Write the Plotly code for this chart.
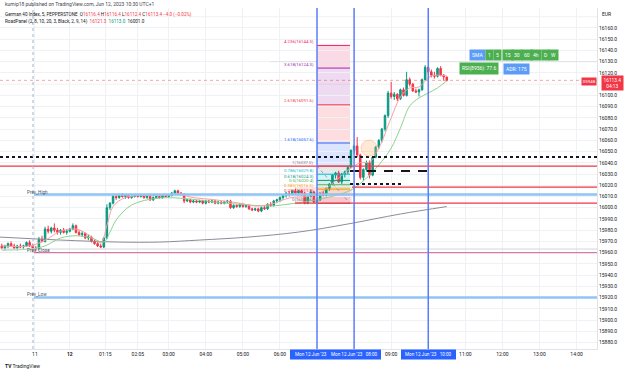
import plotly.graph_objects as go

# ---------------- data (5-minute bars, index 100 = 07:00) ----------------
bars = list(range(-2, 143))
opens = [
    15966, 15964, 15966, 15968, 15966, 15964, 15966, 15965, 15966, 15969,
    15966, 15964, 15963, 15972, 15970, 15981, 15979, 15982, 15980, 15978,
    15980, 15978, 15979, 15981, 15984, 15978, 15976, 15977, 15973, 15974,
    15970, 15968, 15966, 15965, 15973, 16000, 16004, 16010, 16009, 16011,
    16010, 16011, 16009, 16010, 16011, 16010, 16011, 16009, 16010, 16007,
    16009, 16010, 16009, 16011, 16010, 16011, 16013, 16015, 16013, 16012,
    16006, 16007, 16005, 16006, 16005, 16006, 16004, 16006, 16005, 16006,
    16004, 16005, 16004, 16005, 16006, 16000, 16002, 16001, 16003, 16001,
    16002, 15999, 15998, 15999, 15997, 16000, 15999, 16003, 16002, 16006,
    16007, 16009, 16011, 16013, 16012, 16015, 16013, 16015, 16013, 16004,
    16010, 16014, 16005, 16007, 16013, 16011, 16017, 16021, 16029, 16031,
    16023, 16030, 16032, 16036, 16051, 16055, 16047, 16027, 16034, 16040,
    16029, 16045, 16054, 16060, 16070, 16082, 16102, 16099, 16101, 16097,
    16105, 16100, 16114, 16110, 16104, 16103, 16105, 16114, 16125, 16121,
    16118, 16117, 16124, 16118, 16116.4]
highs = [
    15968, 15967, 15969, 15970, 15968, 15967, 15968, 15967, 15970, 15971,
    15968, 15966, 15974, 15975, 15983, 15984, 15983, 15986, 15982, 15981,
    15982, 15981, 15982, 15986, 15985, 15980, 15979, 15978, 15976, 15975,
    15972, 15971, 15968, 15974, 16003, 16005, 16012, 16012, 16012, 16013,
    16012, 16012, 16011, 16012, 16012, 16012, 16012, 16011, 16011, 16010,
    16011, 16011, 16012, 16012, 16012, 16014, 16016, 16016, 16014, 16013,
    16008, 16008, 16007, 16007, 16007, 16007, 16007, 16007, 16007, 16007,
    16006, 16006, 16006, 16007, 16007, 16003, 16003, 16004, 16004, 16003,
    16003, 16000, 16000, 16000, 16001, 16002, 16004, 16005, 16007, 16008,
    16010, 16012, 16014, 16015, 16016, 16017, 16016, 16016, 16014, 16011,
    16016, 16015, 16009, 16014, 16015, 16018, 16022, 16030, 16032, 16033,
    16031, 16033, 16037, 16052, 16056, 16063, 16048, 16035, 16042, 16042,
    16046, 16055, 16061, 16071, 16083, 16104, 16112, 16103, 16102, 16106,
    16107, 16121, 16116, 16111, 16106, 16106, 16115, 16127, 16126, 16123,
    16121, 16125, 16126, 16119, 16116.4]
lows = [
    15963, 15962, 15964, 15965, 15963, 15962, 15964, 15963, 15965, 15965,
    15962, 15961, 15962, 15969, 15969, 15977, 15977, 15978, 15976, 15976,
    15977, 15976, 15978, 15980, 15977, 15975, 15974, 15972, 15971, 15969,
    15967, 15965, 15964, 15964, 15972, 15998, 16003, 16007, 16008, 16009,
    16008, 16008, 16008, 16009, 16009, 16009, 16008, 16008, 16006, 16006,
    16008, 16008, 16008, 16009, 16009, 16010, 16012, 16012, 16011, 16004,
    16005, 16004, 16004, 16004, 16004, 16003, 16003, 16004, 16004, 16003,
    16003, 16003, 16003, 16004, 15999, 15999, 16000, 16000, 16000, 16000,
    15998, 15997, 15997, 15996, 15996, 15998, 15998, 16001, 16001, 16004,
    16005, 16007, 16009, 16010, 16011, 16012, 16011, 16011, 16003, 16003,
    16009, 16004, 16003, 16006, 16010, 16010, 16015, 16020, 16026, 16022,
    16021, 16027, 16030, 16035, 16048, 16045, 16025, 16024, 16032, 16026,
    16028, 16044, 16052, 16058, 16068, 16080, 16097, 16096, 16095, 16096,
    16099, 16099, 16108, 16103, 16102, 16099, 16104, 16113, 16119, 16116,
    16115, 16116, 16117, 16113, 16112.4]
closes = [
    15964, 15966, 15968, 15966, 15964, 15966, 15965, 15966, 15969, 15966,
    15964, 15963, 15972, 15970, 15981, 15979, 15982, 15980, 15978, 15980,
    15978, 15979, 15981, 15984, 15978, 15976, 15977, 15973, 15974, 15970,
    15968, 15966, 15965, 15973, 16000, 16004, 16010, 16009, 16011, 16010,
    16011, 16009, 16010, 16011, 16010, 16011, 16009, 16010, 16007, 16009,
    16010, 16009, 16011, 16010, 16011, 16013, 16015, 16013, 16012, 16006,
    16007, 16005, 16006, 16005, 16006, 16004, 16006, 16005, 16006, 16004,
    16005, 16004, 16005, 16006, 16000, 16002, 16001, 16003, 16001, 16002,
    15999, 15998, 15999, 15997, 16000, 15999, 16003, 16002, 16006, 16007,
    16009, 16011, 16013, 16012, 16015, 16013, 16015, 16013, 16004, 16010,
    16014, 16005, 16007, 16013, 16011, 16017, 16021, 16029, 16031, 16023,
    16030, 16032, 16036, 16051, 16055, 16047, 16027, 16034, 16040, 16029,
    16045, 16054, 16060, 16070, 16082, 16102, 16099, 16101, 16097, 16105,
    16100, 16114, 16110, 16104, 16103, 16105, 16114, 16125, 16121, 16118,
    16117, 16124, 16118, 16116.4, 16113.4]

fast_idx = [-2, 7, 12, 17, 22, 26, 30, 32, 34, 38, 49, 56, 59, 67, 75, 80, 85, 91, 98,
            101, 106, 111, 114, 117, 120, 124, 127, 130, 133, 137, 142]
fast_val = [15966, 15966, 15971, 15979, 15981, 15976, 15969, 15984, 16001, 16009, 16011,
            16012, 16009.5, 16007, 16004, 16001.5, 16003, 16008.6, 16010.4, 16013, 16024,
            16035.3, 16040, 16040.7, 16053, 16080, 16098.6, 16106.6, 16107.5, 16117.3, 16117.3]
slow_idx = [-2, 7, 12, 17, 22, 27, 31, 33, 35, 40, 49, 59, 67, 78, 85, 91, 101, 111, 116,
            120, 124, 127, 130, 133, 136, 139, 142]
slow_val = [15962.3, 15963.2, 15966, 15973, 15975, 15973, 15969.4, 15978.3, 15989, 16002.4,
            16008.6, 16007.7, 16005, 16002.4, 16001.5, 16003.3, 16007.7, 16015.7, 16026.4,
            16038, 16053, 16071, 16090.5, 16097.7, 16102.1, 16106.6, 16113]
sma_idx = [-3, 17, 36, 49, 62, 78, 94, 110, 127, 142]
sma_val = [15973.9, 15971.2, 15969.4, 15969.4, 15971.2, 15973.9, 15978.3, 15985.5, 15994.4, 16001.0]

fib_ratio = ["0", "0.236", "0.382", "0.5", "0.618", "0.786", "1", "1.618", "2.618", "3.618", "4.236"]
fib_price = [16003.8, 16011.8, 16016.5, 16020.4, 16024.3, 16029.8, 16037.0, 16057.6, 16091.6, 16124.3, 16144.5]
fib_color = ["#787b86", "#f23645", "#ff9800", "#4caf50", "#089981", "#00bcd4", "#787b86",
             "#2962ff", "#f23645", "#9c27b0", "#e91e63"]

prev_high, prev_low, prev_close, prev_open = 16011.7, 15920.0, 15960.0, 15963.2
level_red = [16037.0, 16018.4, 16004.0]
level_dotted_long, level_dashed, level_dotted_short = 16045.1, 16032.7, 16021.1
level_grey_top = 16130.0
last_price = 16113.4

price_ticks = [15880, 15890, 15900, 15910, 15920, 15930, 15940, 15950, 15960, 15970, 15980,
               15990, 16000, 16010, 16020, 16030, 16040, 16050, 16060, 16070, 16080, 16090,
               16100, 16120, 16130, 16140, 16150, 16160]
hidden_grid = [16110, 16170]
tick_vals = [8.7, 20, 31.5, 42, 52, 64, 76, 88, 124, 148, 160, 172, 184]
tick_text = ["11", "<b>12</b>", "01:15", "02:05", "03:00", "04:00", "05:00", "06:00",
             "09:00", "11:00", "12:00", "13:00", "14:00"]
vlines = [100, 112, 136]

# ---------------- geometry helpers ----------------
PR, PT, PB = 597, 8, 349
X_MIN, X_MAX = -2.59, 190.61
Y_MIN, Y_MAX = 15874.2, 16177.8
def fx(px): return px / PR
def fy(py): return 1 - (py - PT) / (PB - PT)
def ix(px): return X_MIN + (X_MAX - X_MIN) * px / PR

FONT = "Roboto, Arial, sans-serif"
DARK = "#131722"
GRID = "#f0f1f4"

fig = go.Figure()
fig.add_trace(go.Scatter(x=sma_idx, y=sma_val, mode="lines", line=dict(color="#8a8d96", width=1, shape="spline"), hoverinfo="skip"))
fig.add_trace(go.Scatter(x=slow_idx, y=slow_val, mode="lines", line=dict(color="#8fd18f", width=1, shape="spline"), hoverinfo="skip"))
fig.add_trace(go.Scatter(x=fast_idx, y=fast_val, mode="lines", line=dict(color="#f7a1a1", width=1, shape="spline"), hoverinfo="skip"))
fig.add_trace(go.Candlestick(
    x=bars, open=opens, high=highs, low=lows, close=closes,
    increasing=dict(line=dict(color="#089981", width=1), fillcolor="#089981"),
    decreasing=dict(line=dict(color="#f23645", width=1), fillcolor="#f23645"),
    whiskerwidth=0, hoverinfo="skip"))

shapes = []
for g in hidden_grid:
    shapes.append(dict(type="line", xref="paper", yref="y", x0=0, x1=1, y0=g, y1=g, line=dict(color=GRID, width=1), layer="below"))
fx0, fx1 = ix(317), ix(350)
# fib fills and lines
for i in range(1, len(fib_price)):
    c = fib_color[i]
    r, g, b = int(c[1:3], 16), int(c[3:5], 16), int(c[5:7], 16)
    shapes.append(dict(type="rect", xref="x", yref="y", x0=fx0, x1=fx1, y0=fib_price[i - 1], y1=fib_price[i],
                       fillcolor=f"rgba({r},{g},{b},0.17)", line=dict(width=0), layer="below"))
for p, c in zip(fib_price, fib_color):
    shapes.append(dict(type="line", xref="x", yref="y", x0=fx0, x1=fx1, y0=p, y1=p, line=dict(color=c, width=1)))
shapes.append(dict(type="line", xref="x", yref="y", x0=fx0, x1=fx1, y0=fib_price[6], y1=fib_price[0],
                   line=dict(color="#9598a1", width=1, dash="dot")))
# opening range box
shapes.append(dict(type="rect", xref="x", yref="y", x0=ix(295), x1=ix(352), y0=level_red[2], y1=level_red[1],
                   fillcolor="rgba(242,54,69,0.13)", line=dict(width=0), layer="below"))
# red horizontal levels
shapes.append(dict(type="line", xref="x", yref="y", x0=X_MIN, x1=X_MAX, y0=level_red[0], y1=level_red[0], line=dict(color="#f23645", width=1.3)))
shapes.append(dict(type="line", xref="x", yref="y", x0=ix(352), x1=X_MAX, y0=level_red[1], y1=level_red[1], line=dict(color="#f23645", width=1.3)))
shapes.append(dict(type="line", xref="x", yref="y", x0=ix(295), x1=X_MAX, y0=level_red[2], y1=level_red[2], line=dict(color="#f23645", width=1.3)))
# black dotted / dashed lines
shapes.append(dict(type="line", xref="x", yref="y", x0=X_MIN, x1=X_MAX, y0=level_dotted_long, y1=level_dotted_long,
                   line=dict(color="#131722", width=2, dash="dot")))
shapes.append(dict(type="line", xref="x", yref="y", x0=ix(350), x1=ix(433), y0=level_dashed, y1=level_dashed,
                   line=dict(color="#131722", width=2, dash="9px,8px")))
shapes.append(dict(type="line", xref="x", yref="y", x0=ix(350), x1=ix(404), y0=level_dotted_short, y1=level_dotted_short,
                   line=dict(color="#131722", width=2, dash="dot")))
# previous day levels
shapes.append(dict(type="line", xref="x", yref="y", x0=X_MIN, x1=X_MAX, y0=prev_open, y1=prev_open, line=dict(color="#d1d4dc", width=1)))
for lv in (prev_high, prev_low):
    shapes.append(dict(type="line", xref="x", yref="y", x0=ix(34), x1=X_MAX, y0=lv, y1=lv, line=dict(color="#90c4f5", width=2.6)))
shapes.append(dict(type="line", xref="x", yref="y", x0=ix(34), x1=X_MAX, y0=prev_close, y1=prev_close, line=dict(color="#d47aa8", width=1.4)))
shapes.append(dict(type="line", xref="x", yref="y", x0=ix(270), x1=X_MAX, y0=level_grey_top, y1=level_grey_top, line=dict(color="#e0e1e5", width=1)))
shapes.append(dict(type="line", xref="x", yref="y", x0=X_MIN, x1=X_MAX, y0=last_price, y1=last_price,
                   line=dict(color="rgba(242,54,69,0.45)", width=1, dash="dot")))
# vertical lines
for v in vlines:
    shapes.append(dict(type="line", xref="x", yref="paper", x0=v, x1=v, y0=0, y1=1, line=dict(color="#5a7dfb", width=1.5)))
shapes.append(dict(type="line", xref="paper", yref="paper", x0=fx(33), x1=fx(33), y0=0, y1=fy(0), line=dict(color="#9fb3d1", width=1, dash="dot")))
# highlight circle
shapes.append(dict(type="circle", xref="x", yref="y", x0=ix(361), x1=ix(377), y0=16046, y1=16060.2,
                   fillcolor="rgba(255,178,120,0.30)", line=dict(color="rgba(255,178,120,0.5)", width=1)))
# time axis blue boxes
shapes.append(dict(type="rect", xref="paper", yref="paper", x0=fx(290), x1=fx(381), y0=fy(359.5), y1=fy(349.5),
                   fillcolor="#2962ff", line=dict(width=0)))
shapes.append(dict(type="rect", xref="paper", yref="paper", x0=fx(401), x1=fx(456), y0=fy(359.5), y1=fy(349.5),
                   fillcolor="#2962ff", line=dict(width=0)))

ann = []
def txt(px, py, s, size=5, color=DARK, xa="left", bg=None, pad=1):
    d = dict(x=fx(px), y=fy(py), xref="paper", yref="paper", text=s, showarrow=False, xanchor=xa, yanchor="middle",
             font=dict(family=FONT, size=size, color=color), borderpad=pad)
    if bg:
        d["bgcolor"] = bg
    ann.append(d)

txt(3, 3.5, "kumip18 published on TradingView.com, Jun 12, 2023 10:30 UTC+1", size=5, color="#434651")
R = "#f23645"
txt(3, 15, "German 40 Index, 5, PEPPERSTONE  O<span style='color:%s'>16116.4</span> H<span style='color:%s'>16116.4</span> "
          "L<span style='color:%s'>16112.4</span> C<span style='color:%s'>16113.4</span> "
          "<span style='color:%s'>−4.0 (−0.02%%)</span>" % (R, R, R, R, R), size=4.6)
txt(3, 22, "RoadPanel (2, 8, 10, 20, 3, Black, 2, 9, 14)  <span style='color:#f23645'>16121.3</span>  "
          "<span style='color:#089981'>16113.0</span>  16001.0", size=4.6)
txt(25, 192, "Prev_High", size=4.6, color="#50535e")
txt(25, 250.5, "Prev_Close", size=4.6, color="#50535e")
txt(25, 294.5, "Prev_Low", size=4.6, color="#50535e")
for r_, p, c in zip(fib_ratio, fib_price, fib_color):
    ann.append(dict(x=ix(316), y=p, xref="x", yref="y", text=f"{r_}({p:.1f})", showarrow=False, xanchor="right",
                    yanchor="middle", yshift=4, font=dict(family=FONT, size=4.3, color=c)))
# right axis labels
txt(606, 14, "EUR", size=5, xa="center")
txt(612, 83, "16113.4<br>04:13", size=4.8, color="white", xa="center", bg="#f23645", pad=1.5)
txt(588.5, 81, "05948", size=4.4, color="white", xa="center", bg="#f23645", pad=0.8)
# time axis box labels
txt(311, 354.5, "Mon 12 Jun '23", size=4.6, color="white", xa="center")
txt(355, 354.5, "Mon 12 Jun '23   08:00", size=4.6, color="white", xa="center")
txt(428.5, 354.5, "Mon 12 Jun '23   10:00", size=4.6, color="white", xa="center")
# top-right tags
BL, GR = "#5b9cf6", "#4caf50"
txt(478, 55.5, "SMA", size=5, color="white", xa="center", bg=BL, pad=2)
for px_, s in zip([489, 498, 507.5, 517, 526.5, 536, 545, 553.5], ["1", "5", "15", "30", "60", "4h", "D", "W"]):
    txt(px_, 55.5, s, size=5, color="white", xa="center", bg=GR, pad=2)
txt(479, 68.5, "RSI(8956): 77.6", size=5, color="white", xa="center", bg=GR, pad=2)
txt(516.5, 68.5, "ADR: 175", size=5, color="white", xa="center", bg=BL, pad=2)
txt(3, 366, "<b>TV</b> TradingView", size=5, color="#131722")

fig.update_layout(
    width=625, height=372, margin=dict(l=0, r=625 - PR, t=PT, b=372 - PB),
    paper_bgcolor="white", plot_bgcolor="white", showlegend=False,
    shapes=shapes, annotations=ann, font=dict(family=FONT, size=5, color=DARK),
    xaxis=dict(range=[X_MIN, X_MAX], tickvals=tick_vals, ticktext=tick_text, showgrid=True,
               gridcolor=GRID, gridwidth=1, zeroline=False, showline=True, linecolor="#e0e3eb",
               ticks="", tickfont=dict(size=5, color=DARK), rangeslider=dict(visible=False), fixedrange=True),
    yaxis=dict(range=[Y_MIN, Y_MAX], side="right", tickvals=price_ticks, tickformat=".1f", showgrid=True,
               gridcolor=GRID, gridwidth=1, zeroline=False, showline=True, linecolor="#e0e3eb",
               ticks="", tickfont=dict(size=5, color=DARK), fixedrange=True),
)
fig.write_html("out.html")
